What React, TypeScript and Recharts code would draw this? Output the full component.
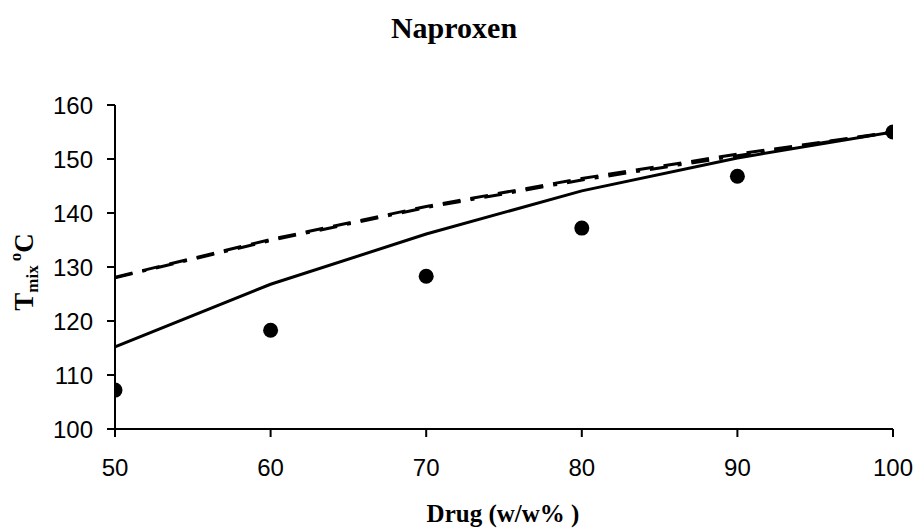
import React from "react";
import { ComposedChart, Line, Scatter, XAxis, YAxis } from "recharts";

const xTicks = [50, 60, 70, 80, 90, 100];
const yTicks = [100, 110, 120, 130, 140, 150, 160];

const drugPct = [50, 60, 70, 80, 90, 100];
const experimental = [107.2, 118.3, 128.3, 137.2, 146.8, 155];
const modelSolid = [115.2, 126.8, 136.1, 144.1, 150.2, 155];
const modelDash = [128.1, 135.1, 141.2, 146.4, 150.9, 155];
const modelDashDot = [128.0, 134.9, 141.0, 146.1, 150.6, 155];

const lineData = drugPct.map((x, i) => ({
  x,
  solid: modelSolid[i],
  dash: modelDash[i],
  dashDot: modelDashDot[i],
}));
const pointData = drugPct.map((x, i) => ({ x, y: experimental[i] }));

const serif = "'Liberation Serif', 'Times New Roman', serif";
const sans = "'Liberation Sans', Arial, sans-serif";

const YLabel = () => (
  <text
    x={33}
    y={272}
    transform="rotate(-90, 33, 272)"
    textAnchor="middle"
    fontFamily={serif}
    fontWeight="bold"
    fontSize={27}
    fill="#000"
  >
    T
    <tspan fontSize={17} dy={5}>mix</tspan>
    <tspan fontSize={17} dy={-17} dx={4}>o</tspan>
    <tspan fontSize={27} dy={12}>C</tspan>
  </text>
);

const XLabel = () => (
  <text
    x={503}
    y={522}
    textAnchor="middle"
    fontFamily={serif}
    fontWeight="bold"
    fontSize={25}
    fill="#000"
  >
    Drug (w/w% )
  </text>
);

const Title = () => (
  <text
    x={454}
    y={38}
    textAnchor="middle"
    fontFamily={serif}
    fontWeight="bold"
    fontSize={30}
    fill="#000"
  >
    Naproxen
  </text>
);

export default function App() {
  return (
    <div style={{ position: "absolute", left: 0, top: 0, width: 920, height: 531, background: "#fff" }}>
      <ComposedChart
        width={920}
        height={531}
        data={lineData}
        margin={{ top: 105, right: 27, bottom: 0, left: 0 }}
      >
        <XAxis
          dataKey="x"
          type="number"
          domain={[50, 100]}
          ticks={xTicks}
          allowDataOverflow
          height={102}
          tickSize={8}
          tickMargin={22}
          stroke="#000"
          strokeWidth={2}
          tick={{ fill: "#000", fontSize: 24, fontFamily: sans }}
          tickLine={{ stroke: "#000", strokeWidth: 2 }}
        />
        <YAxis
          type="number"
          domain={[100, 160]}
          ticks={yTicks}
          allowDataOverflow
          width={115}
          tickSize={8}
          tickMargin={14}
          stroke="#000"
          strokeWidth={2}
          tick={{ fill: "#000", fontSize: 24, fontFamily: sans }}
          tickLine={{ stroke: "#000", strokeWidth: 2 }}
        />
        <Line
          dataKey="dash"
          stroke="#000"
          strokeWidth={3}
          strokeDasharray="18 10"
          dot={false}
          isAnimationActive={false}
          type="linear"
        />
        <Line
          dataKey="dashDot"
          stroke="#000"
          strokeWidth={3}
          strokeDasharray="18 10 4 10"
          dot={false}
          isAnimationActive={false}
          type="linear"
        />
        <Line
          dataKey="solid"
          stroke="#000"
          strokeWidth={3}
          dot={false}
          isAnimationActive={false}
          type="linear"
        />
        <Scatter
          data={pointData}
          dataKey="y"
          fill="#000"
          isAnimationActive={false}
          shape={(p: any) => <circle cx={p.cx} cy={p.cy} r={7.5} fill="#000" />}
        />
        <Title />
        <YLabel />
        <XLabel />
      </ComposedChart>
    </div>
  );
}
